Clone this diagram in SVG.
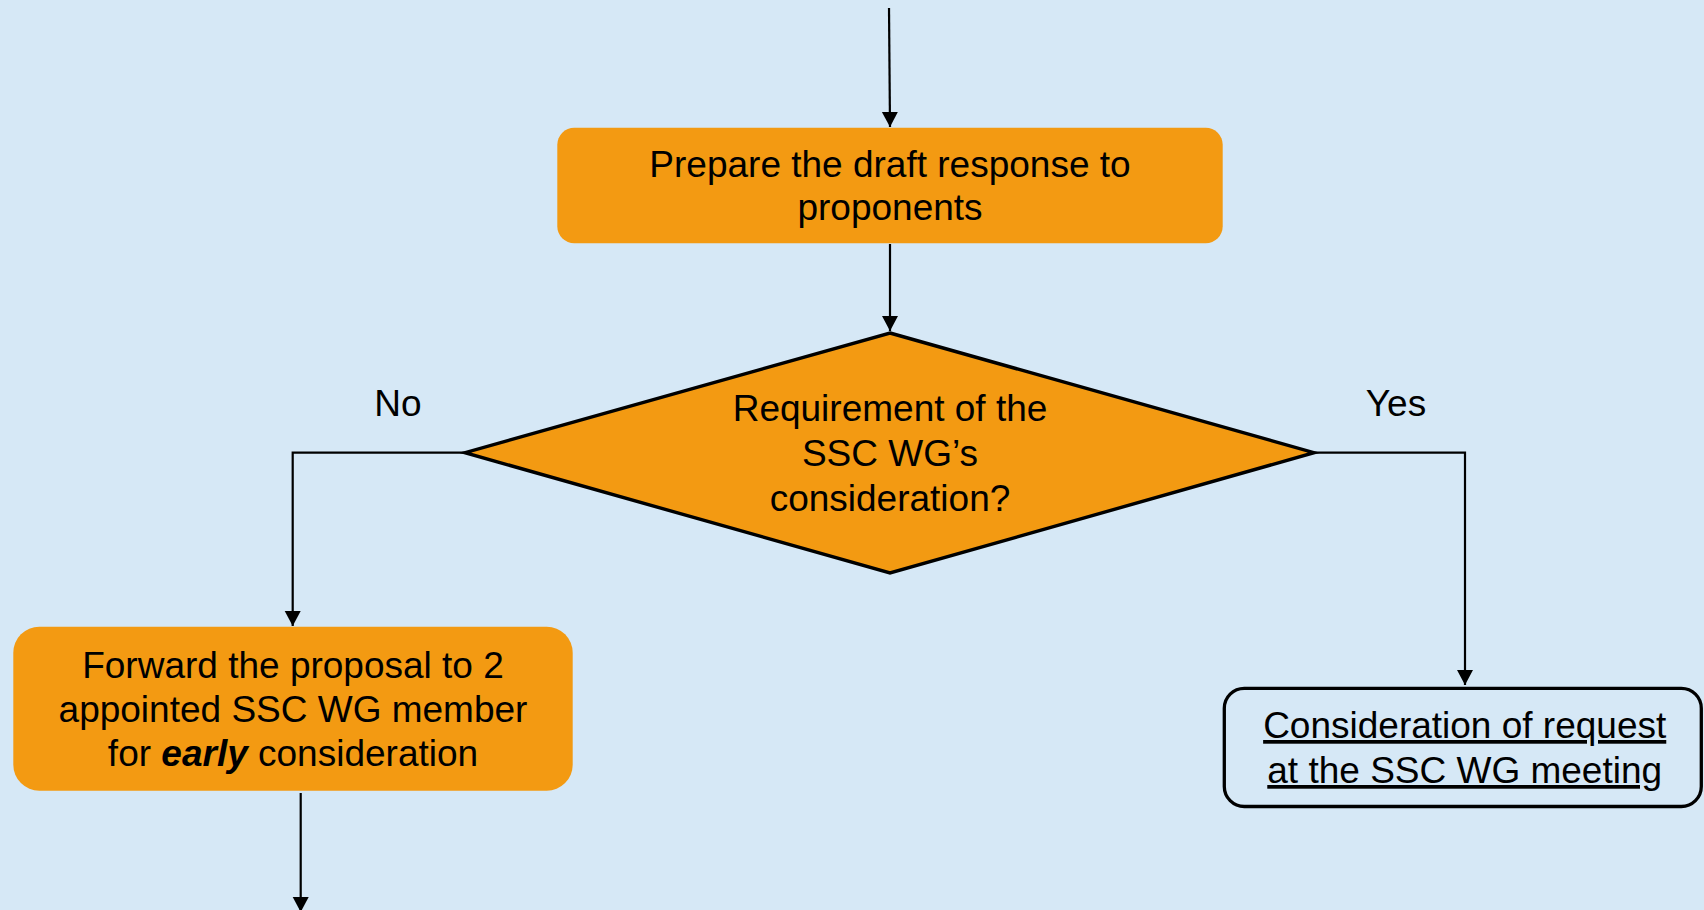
<svg xmlns="http://www.w3.org/2000/svg" width="1704" height="910" viewBox="0 0 1704 910">
  <defs>
    <style>
      .lbl { font-family: "Liberation Sans", Arial, sans-serif; font-size: 37px; fill: #000; text-anchor: middle; }
      .conn { fill: none; stroke: #000; stroke-width: 2.2; }
      .proc { fill: #F39A12; }
    </style>
    <marker id="arr" markerUnits="userSpaceOnUse" markerWidth="17" markerHeight="17" refX="15" refY="8" orient="auto">
      <path d="M0,0 L15,8 L0,16 z" fill="#000"/>
    </marker>
  </defs>
  <rect x="0" y="0" width="1704" height="910" fill="#D6E8F6"/>

  <g id="connectors">
    <path class="conn" d="M889,8 L890,127" marker-end="url(#arr)"/>
    <path class="conn" d="M890,244 L890,331" marker-end="url(#arr)"/>
    <path class="conn" d="M465,452.7 L292.7,452.7 L292.7,626" marker-end="url(#arr)"/>
    <path class="conn" d="M1314,452.7 L1465,452.7 L1465,685" marker-end="url(#arr)"/>
    <path class="conn" d="M300.7,793 L300.7,912" marker-end="url(#arr)"/>
  </g>

  <g id="node-prepare">
    <rect class="proc" x="557.3" y="127.7" width="665.4" height="115.6" rx="17" ry="17"/>
    <text class="lbl" x="890" y="177.3">Prepare the draft response to</text>
    <text class="lbl" x="890" y="219.5">proponents</text>
  </g>

  <g id="node-decision">
    <polygon points="890,333 1314,452.7 890,573 465,452.7" fill="#F39A12" stroke="#000" stroke-width="3.4" stroke-linejoin="miter"/>
    <text class="lbl" x="890" y="421">Requirement of the</text>
    <text class="lbl" x="890" y="466">SSC WG’s</text>
    <text class="lbl" x="890" y="511">consideration?</text>
  </g>

  <g id="label-no">
    <text class="lbl" x="398" y="416">No</text>
  </g>
  <g id="label-yes">
    <text class="lbl" x="1396" y="416">Yes</text>
  </g>

  <g id="node-forward">
    <rect class="proc" x="13.3" y="626.7" width="559.4" height="164" rx="26" ry="26"/>
    <text class="lbl" x="293" y="678.3">Forward the proposal to 2</text>
    <text class="lbl" x="293" y="721.7">appointed SSC WG member</text>
    <text class="lbl" x="293" y="765.7">for <tspan font-weight="bold" font-style="italic">early</tspan> consideration</text>
  </g>

  <g id="node-consideration">
    <rect x="1224.3" y="688.3" width="477" height="118.2" rx="20" ry="20" fill="#D6E8F6" stroke="#000" stroke-width="3.3"/>
    <text class="lbl" x="1464.7" y="738" text-decoration="underline">Consideration of request</text>
    <text class="lbl" x="1464.7" y="783" text-decoration="underline">at the SSC WG meeting</text>
  </g>
</svg>
